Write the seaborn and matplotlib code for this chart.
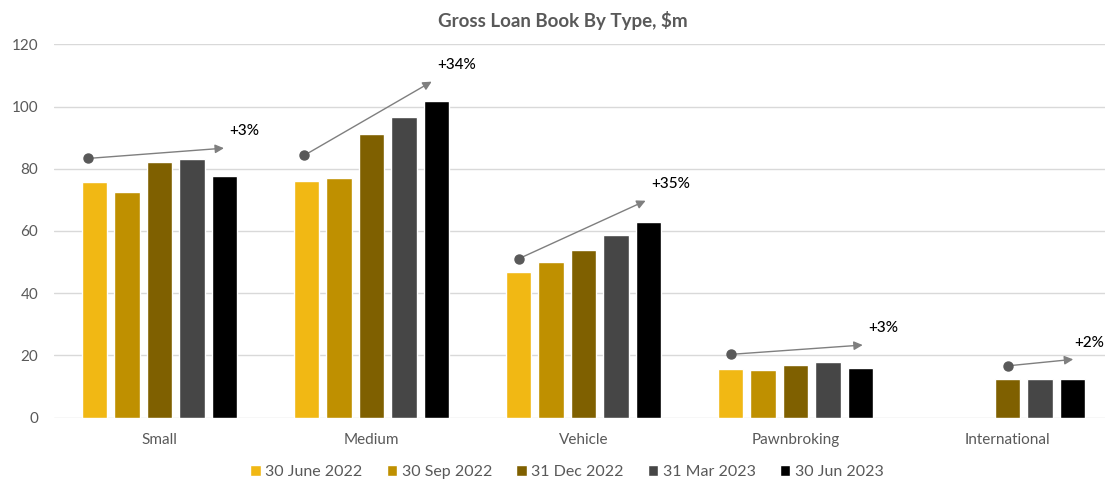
import matplotlib
matplotlib.use("Agg")
import matplotlib.pyplot as plt
import seaborn as sns
import pandas as pd
import numpy as np

# ---- data ----
categories = ["Small", "Medium", "Vehicle", "Pawnbroking", "International"]
periods = ["30 June 2022", "30 Sep 2022", "31 Dec 2022", "31 Mar 2023", "30 Jun 2023"]
jun22 = [75.8, 76.2, 46.7, 15.6, None]
sep22 = [72.6, 76.9, 49.9, 15.2, None]
dec22 = [82.2, 91.1, 54.0, 16.8, 12.4]
mar23 = [83.0, 96.7, 58.7, 17.7, 12.4]
jun23 = [77.7, 101.9, 62.9, 16.0, 12.4]
growth_labels = ["+3%", "+34%", "+35%", "+3%", "+2%"]
arrow_start = [83.3, 84.3, 51.1, 20.3, 16.6]
arrow_end = [86.6, 108.0, 69.7, 23.3, 18.7]
yticks = [0, 20, 40, 60, 80, 100, 120]

colors = ["#F1B814", "#BF9000", "#7F6000", "#464646", "#000000"]

rows = []
for p, vals in zip(periods, [jun22, sep22, dec22, mar23, jun23]):
    for c, v in zip(categories, vals):
        if v is not None:
            rows.append({"Type": c, "Period": p, "Value": v})
df = pd.DataFrame(rows)

sns.set_theme(style="white")
plt.rcParams["font.family"] = ["Lato", "DejaVu Sans"]

fig = plt.figure(figsize=(11.05, 4.83), dpi=100)
W, H = 1105, 483
ax = fig.add_axes([53.5 / W, 65.5 / H, 1060 / W, 373.2 / H])

sns.barplot(data=df, x="Type", y="Value", hue="Period", order=categories,
            hue_order=periods, palette=colors, width=0.767, gap=0.22,
            errorbar=None, ax=ax, saturation=1)

ax.set_xlim(-0.5, 4.5)
ax.set_ylim(0, 120)
ax.set_yticks(yticks)
ax.set_yticklabels([str(t) for t in yticks])
ax.yaxis.grid(True, color="#D9D9D9", linewidth=1)
ax.set_axisbelow(True)
for s in ax.spines.values():
    s.set_visible(False)
ax.set_xlabel("")
ax.set_ylabel("")
ax.tick_params(axis="both", length=0, labelsize=11, colors="#595959")
ax.tick_params(axis="y", pad=11)
ax.tick_params(axis="x", pad=11)

# growth annotations
start_off = [-0.337, -0.317, -0.304, -0.306, 0.0]
end_off = [0.304, 0.284, 0.293, 0.317, 0.31]
text_dx = [4, 4, 4, 4, 0.5]
for i, (lab, ys, ye) in enumerate(zip(growth_labels, arrow_start, arrow_end)):
    xs = i + start_off[i]
    xe = i + end_off[i]
    ax.annotate("", xy=(xe, ye), xytext=(xs, ys),
                arrowprops=dict(arrowstyle="-|>", color="#7F7F7F", lw=1,
                                mutation_scale=13, shrinkA=0, shrinkB=0),
                annotation_clip=False)
    ax.plot([xs], [ys], marker="o", markersize=6.5, color="#595959",
            clip_on=False, zorder=5)
    ax.annotate(lab, xy=(xe, ye), xytext=(text_dx[i], 7), textcoords="offset points",
                fontsize=11, color="#000000", ha="left", va="bottom",
                fontweight="medium", annotation_clip=False)

# legend
handles, labels = ax.get_legend_handles_labels()
if ax.legend_ is not None:
    ax.legend_.remove()
fig.legend(handles, labels, loc="center", ncol=5, frameon=False,
           bbox_to_anchor=(567 / W, 1 - 472 / H), fontsize=11.5,
           handlelength=0.65, handleheight=0.65, handletextpad=0.3,
           columnspacing=1.5, labelcolor="#595959")

fig.text(563 / W, 1 - 20 / H, "Gross Loan Book By Type, $m", ha="center",
         va="center", fontsize=13.5, fontweight="bold", color="#595959")

fig.savefig("out.png", dpi=100)
